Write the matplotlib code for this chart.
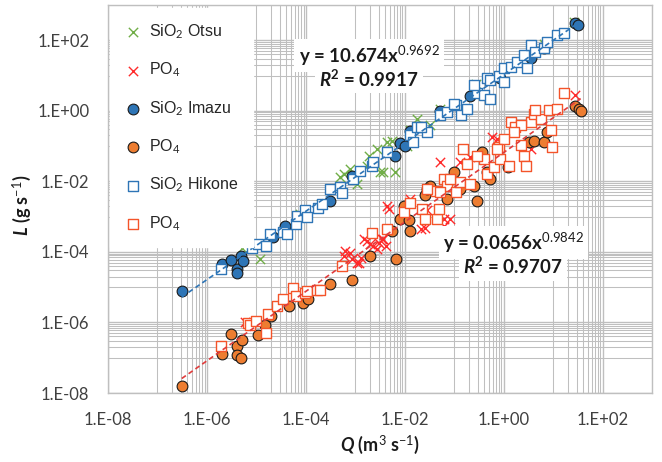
import numpy as np
import matplotlib
matplotlib.use("Agg")
import matplotlib.pyplot as plt
from matplotlib.ticker import FixedLocator, FuncFormatter, NullFormatter

plt.rcParams['mathtext.fontset'] = 'custom'
plt.rcParams['mathtext.rm'] = 'Lato'
plt.rcParams['mathtext.it'] = 'Lato:italic'
plt.rcParams['mathtext.bf'] = 'Lato:bold'
try:
    plt.rcParams['mathtext.bfit'] = 'Lato:bold:italic'
except KeyError:
    pass

# ---------------- data ----------------
otsu_sio2_Q = [5.1e-6, 1.2e-5, 7.8e-5, 2.0e-4, 5.0e-4, 5.8e-4, 7.9e-4, 1.1e-3, 1.7e-3, 1.9e-3,
               2.8e-3, 3.2e-3, 3.7e-3, 6.5e-3, 4.4e-3, 5.5e-3, 1.1e-2, 1.3e-2, 1.8e-2, 3.3e-2,
               5.2e-2, 0.27, 1.4, 3.5, 6.5, 26]
otsu_sio2_L = [1.26e-4, 6.5e-5, 1.2e-3, 2.3e-3, 1.3e-2, 1.6e-2, 2.2e-2, 8.3e-3, 2.8e-2, 5.4e-2,
               8.3e-2, 1.8e-2, 1.8e-2, 1.8e-2, 0.13, 0.14, 0.10, 0.28, 0.60, 0.39,
               1.15, 5.9, 18, 45, 80, 330]

otsu_po4_Q = [5.9e-6, 6.3e-4, 7.9e-4, 8.5e-4, 1.2e-3, 1.3e-3, 1.5e-3, 1.7e-3, 2.0e-3, 2.3e-3,
              2.8e-3, 3.0e-3, 3.5e-3, 4.1e-3, 3.7e-3, 4.4e-3, 4.7e-3, 9.5e-3, 2.6e-2, 6.2e-2,
              8.3e-2, 6.2e-2, 2.8e-2, 5.2e-2, 0.13, 0.21, 0.59, 0.74, 3.5, 28,
              2.1e-2, 5.9e-4, 1.1e-3, 1.3e-2]
otsu_po4_L = [1.05e-6, 1.07e-4, 9.5e-5, 6.2e-5, 4.9e-5, 6.9e-5, 2.3e-4, 2.0e-4, 1.7e-4, 1.5e-4,
              1.2e-4, 1.8e-4, 2.3e-4, 1.5e-4, 2.3e-4, 2.0e-3, 1.6e-3, 9.5e-4, 4.9e-4, 8.5e-4,
              8.5e-4, 5.5e-4, 1.5e-3, 3.5e-2, 3.5e-2, 4.8e-2, 0.18, 0.16, 8.3e-2, 2.8,
              4.5e-4, 7.6e-5, 4.9e-5, 3.2e-3]

imazu_sio2_Q = [3.1e-7, 2.0e-6, 3.0e-6, 4.0e-6, 4.0e-6, 4.9e-6, 5.4e-6, 2.2e-5, 3.8e-5, 3.1e-4,
                8.5e-4, 6.5e-3, 8.1e-3, 1.0e-2, 1.3e-2, 5.2e-2, 0.21, 0.85, 3.5, 28,
                32, 6.5]
imazu_sio2_L = [7.6e-6, 4.5e-5, 5.8e-5, 3.3e-5, 2.6e-5, 7.6e-5, 5.4e-5, 2.6e-4, 5.5e-4, 2.8e-3,
                1.4e-2, 5.4e-2, 0.12, 0.10, 0.26, 1.0, 2.6, 8.3, 31, 300,
                270, 59]

imazu_po4_Q = [3.1e-7, 2.0e-6, 3.0e-6, 4.0e-6, 5.1e-6, 4.0e-6, 4.9e-6, 1.1e-5, 1.5e-5, 2.0e-5,
               4.5e-5, 8.7e-5, 1.1e-4, 3.1e-4, 8.5e-4, 2.0e-3, 6.8e-3, 5.5e-3, 9.5e-3, 8.1e-3,
               1.3e-2, 1.2e-2, 2.6e-2, 3.3e-2, 2.8e-2, 7.2e-2, 9.8e-2, 0.29, 0.25, 0.47,
               0.36, 0.54, 1.2, 3.2, 4.1, 6.5, 7.6, 28, 33, 36,
               0.13]
imazu_po4_L = [1.6e-8, 1.3e-7, 4.7e-7, 2.2e-7, 3.1e-7, 1.2e-7, 9.8e-8, 4.5e-7, 8.7e-7, 1.5e-6,
               2.9e-6, 3.5e-6, 4.5e-6, 1.2e-5, 1.6e-5, 7.6e-5, 6.5e-5, 4.0e-4, 2.0e-3, 8.5e-4,
               4.0e-4, 7.8e-4, 4.0e-3, 7.6e-3, 6.0e-3, 3.2e-3, 1.8e-2, 2.8e-3, 7.6e-3, 1.8e-2,
               6.8e-2, 1.2e-2, 2.5e-2, 0.13, 0.14, 0.13, 0.25, 1.4, 1.15, 1.0,
               6.0e-3]

hikone_sio2_Q = [1.9e-6, 8.1e-6, 1.1e-5, 1.6e-5, 1.9e-5, 3.5e-5, 4.2e-5, 6.2e-5, 6.6e-5, 9.8e-5,
                 1.05e-4, 1.8e-4, 2.1e-4, 3.1e-4, 5.0e-4, 5.4e-4, 2.2e-3, 2.3e-3, 4.4e-3, 1.3e-2,
                 1.5e-2, 1.8e-2, 2.8e-2, 5.2e-2, 7.2e-2, 0.11, 0.14, 0.18, 0.098, 0.29,
                 0.40, 0.54, 0.25, 0.47, 0.54, 0.79, 1.0, 1.0, 1.4, 1.9,
                 2.6, 3.0, 3.5, 4.4, 6.5, 7.6, 12, 17, 2.1e-2, 9.1e-4,
                 1.26e-3]
hikone_sio2_L = [3.3e-5, 1.26e-4, 1.7e-4, 1.5e-4, 3.2e-4, 3.7e-4, 3.2e-4, 6.1e-4, 1.05e-3, 1.5e-3,
                 9.5e-4, 1.8e-3, 2.3e-3, 6.0e-3, 6.8e-3, 4.8e-3, 2.8e-2, 3.5e-2, 6.8e-2, 0.20,
                 0.13, 0.35, 0.25, 0.74, 0.93, 1.45, 0.74, 1.15, 1.6, 3.1,
                 2.8, 2.2, 5.4, 8.3, 7.4, 10, 16, 6.6, 18, 25,
                 38, 16, 72, 48, 59, 91, 140, 158, 0.35, 1.2e-2,
                 2.0e-2]

hikone_po4_Q = [1.9e-6, 6.9e-6, 7.4e-6, 1.0e-5, 1.6e-5, 1.7e-5, 2.6e-5, 3.5e-5, 5.6e-5, 6.2e-5,
                9.8e-5, 1.05e-4, 1.7e-4, 1.9e-4, 5.4e-4, 2.2e-3, 4.4e-3, 9.5e-3, 1.3e-2, 2.2e-2,
                2.6e-2, 4.2e-2, 4.5e-2, 4.9e-2, 6.2e-2, 2.8e-2, 7.2e-2, 0.11, 0.13, 0.21,
                0.18, 0.40, 0.47, 0.63, 0.79, 0.85, 1.26, 1.4, 1.7, 2.2,
                2.6, 2.8, 3.5, 4.1, 5.6, 8.9, 9.5, 8.1, 12, 17,
                4.4, 2.2, 1.6, 1.0, 0.74, 0.29, 0.15, 8.3e-2, 5.2e-2]
hikone_po4_L = [2.1e-7, 9.8e-7, 8.7e-7, 1.07e-6, 5.0e-7, 1.7e-6, 2.9e-6, 4.5e-6, 9.5e-6, 5.5e-6,
                6.9e-6, 7.8e-6, 8.5e-6, 8.5e-6, 4.0e-5, 3.5e-4, 4.4e-4, 1.35e-3, 2.5e-3, 1.6e-3,
                8.5e-4, 5.5e-3, 8.5e-4, 1.6e-3, 1.2e-2, 6.0e-3, 7.6e-3, 4.9e-3, 9.3e-3, 8.5e-3,
                3.2e-2, 4.4e-2, 1.6e-2, 2.5e-2, 9.3e-2, 4.4e-2, 2.8e-2, 0.48, 0.35, 0.11,
                5.4e-2, 2.8e-2, 0.48, 0.83, 0.59, 0.28, 9.3e-2, 1.05, 1.15, 3.1,
                1.05, 0.39, 0.25, 0.16, 8.3e-2, 5.4e-2, 8.3e-2, 1.2e-2, 4.9e-3]

# fitted power laws shown on the chart
sio2_coef, sio2_exp, sio2_r2 = 10.674, 0.9692, 0.9917
po4_coef, po4_exp, po4_r2 = 0.0656, 0.9842, 0.9707

# ---------------- figure ----------------
fig = plt.figure(figsize=(6.62, 4.62), dpi=100)
ax = fig.add_axes([108/662, 1-393/462, 544/662, 388/462])
ax.set_xscale('log')
ax.set_yscale('log')
ax.set_xlim(1e-8, 1e3)
ax.set_ylim(1e-8, 1e3)

major = [10.0**e for e in range(-8, 4, 2)]
minor = [k*10.0**(e+1) for e in range(-8, 3, 2) for k in range(1, 10)]
for axis in (ax.xaxis, ax.yaxis):
    axis.set_major_locator(FixedLocator(major))
    axis.set_minor_locator(FixedLocator(minor))
    axis.set_minor_formatter(NullFormatter())
    axis.set_major_formatter(FuncFormatter(lambda v, p: "1.E%+03d" % int(round(np.log10(v)))))
ax.tick_params(which='both', length=0, labelsize=12, pad=13.5, labelcolor='#404040')
for lab in ax.get_xticklabels() + ax.get_yticklabels():
    lab.set_family('Lato')
ax.grid(which='major', color='#BFBFBF', lw=1.0)
ax.grid(which='minor', color='#BFBFBF', lw=0.75)
ax.set_axisbelow(True)
for s in ax.spines.values():
    s.set_color('#BFBFBF')
    s.set_linewidth(1.0)

green = '#70AD47'
red = '#FF2A2A'
blue = '#2E75B6'
orange = '#ED7D31'
sqred = '#F4542A'

ax.scatter(otsu_sio2_Q, otsu_sio2_L, marker='x', s=45, c=green, linewidths=1.0, zorder=3,
           label='SiO$_2$ Otsu')
ax.scatter(otsu_po4_Q, otsu_po4_L, marker='x', s=45, c=red, linewidths=1.0, zorder=3,
           label='PO$_4$')
ax.scatter(imazu_sio2_Q, imazu_sio2_L, marker='o', s=60, facecolors=blue, edgecolors='#1a1a1a',
           linewidths=0.8, zorder=4, label='SiO$_2$ Imazu')
ax.scatter(imazu_po4_Q, imazu_po4_L, marker='o', s=60, facecolors=orange, edgecolors='#1a1a1a',
           linewidths=0.8, zorder=4, label='PO$_4$')
ax.scatter(hikone_sio2_Q, hikone_sio2_L, marker='s', s=62, facecolors='white', edgecolors=blue,
           linewidths=1.0, zorder=5, label='SiO$_2$ Hikone')
ax.scatter(hikone_po4_Q, hikone_po4_L, marker='s', s=62, facecolors='white', edgecolors=sqred,
           linewidths=1.0, zorder=5, label='PO$_4$')

sio2_Q_all = otsu_sio2_Q + imazu_sio2_Q + hikone_sio2_Q
po4_Q_all = otsu_po4_Q + imazu_po4_Q + hikone_po4_Q
xs = np.logspace(np.log10(min(sio2_Q_all)), np.log10(max(sio2_Q_all)), 100)
ax.plot(xs, sio2_coef * xs**sio2_exp, ls=(0, (3, 2)), color=blue, lw=1.2, zorder=6)
xp = np.logspace(np.log10(min(po4_Q_all)), np.log10(max(po4_Q_all)), 100)
ax.plot(xp, po4_coef * xp**po4_exp, ls=(0, (3, 2)), color='#E03C3C', lw=1.2, zorder=6)

leg = ax.legend(loc='upper left', bbox_to_anchor=(0.004, 0.992), frameon=True, fancybox=False,
                framealpha=1, edgecolor='white', facecolor='white',
                prop={'family': 'Liberation Sans', 'size': 11.5},
                borderpad=0.9, handlelength=1.0, handletextpad=0.55, labelspacing=1.25,
                borderaxespad=0, scatterpoints=1)
leg.set_zorder(7)
for t in leg.get_texts():
    t.set_color('#262626')

box = dict(facecolor='white', edgecolor='none', pad=3.0)
tk = dict(transform=ax.transAxes, ha='center', va='center', fontsize=13.5,
          family='Lato', fontweight='bold', color='#1a1a1a', bbox=box, zorder=7)
ax.text(0.480, 0.870, r'y = %sx$^{%s}$' % (sio2_coef, sio2_exp), **tk)
ax.text(0.480, 0.810, r'$\mathbfit{R}^{\mathbf{2}}$ = %s' % sio2_r2, **tk)
ax.text(0.745, 0.388, r'y = %sx$^{%s}$' % (po4_coef, po4_exp), **tk)
ax.text(0.745, 0.326, r'$\mathbfit{R}^{\mathbf{2}}$ = %s' % po4_r2, **tk)

lk = dict(ha='center', va='center', fontsize=13, family='Lato', fontweight='bold', color='#1a1a1a')
fig.text(380/662, 1-445/462, r'$\mathbfit{Q}$ (m$^{3}$ s$^{-1}$)', **lk)
fig.text(22/662, 1-205/462, r'$\mathbfit{L}$ (g s$^{-1}$)', rotation=90, **lk)

fig.savefig('out.png', dpi=100)
